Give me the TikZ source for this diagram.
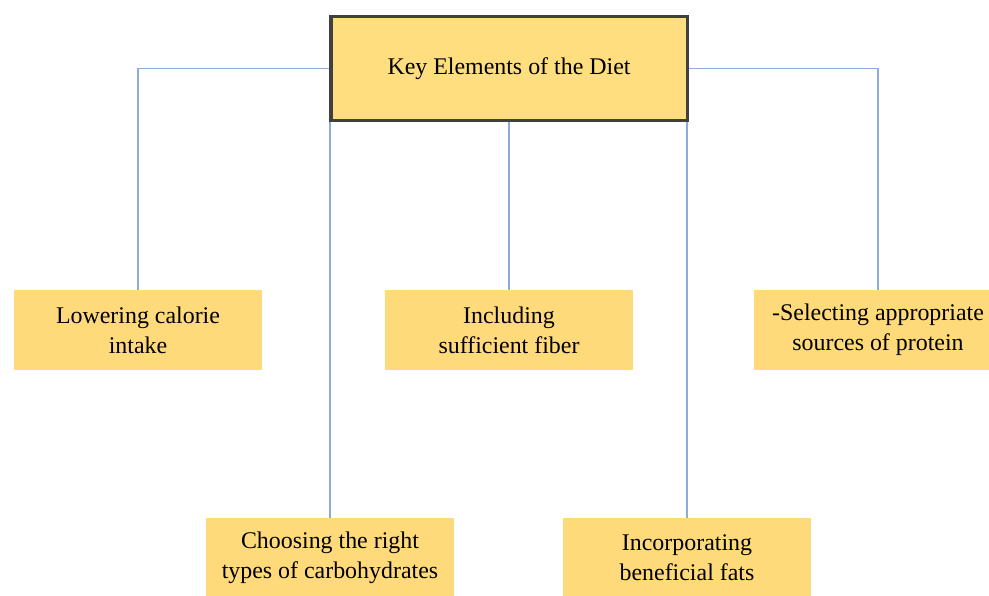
\documentclass[tikz,border=0pt]{standalone}
\usepackage{fontspec}
\setmainfont{Liberation Serif}
\usepackage{tikz}

\definecolor{boxyellow}{RGB}{255,218,122}
\definecolor{topyellow}{RGB}{255,222,128}
\definecolor{linkblue}{RGB}{143,170,220}
\definecolor{frame}{RGB}{64,64,64}

\begin{document}
\begin{tikzpicture}[
        x=0.025cm, y=-0.025cm,
        box/.style={
            draw=none,
            fill=boxyellow,
            minimum width=6.2cm,
            minimum height=2cm,
            align=center,
            font=\fontsize{17}{21.3}\selectfont
        },
        topbox/.style={
            draw=frame,
            line width=2.2pt,
            fill=topyellow,
            minimum width=8.9cm,
            minimum height=2.6cm,
            align=center,
            font=\fontsize{17}{21.3}\selectfont
        },
        link/.style={
            draw=linkblue,
            line width=0.9pt
        }
    ]
        \useasboundingbox (0,0) rectangle (989,595);

        % Title
        \node[topbox] (top) at (509,68.5) {Key Elements of the Diet};

        % Upper row
        \node[box] (lowcal) at (138,330) {Lowering calorie\\intake};
        \node[box] (fiber) at (509,330) {Including\\sufficient fiber};
        \node[box] (protein) at (878,330) {-Selecting appropriate\\sources of protein};

        % Lower row
        \node[box] (carbs) at (330,558) {Choosing the right\\types of carbohydrates};
        \node[box] (fats) at (687,558) {Incorporating\\beneficial fats};

        % Connectors
        \draw[link] (top.west) -| (lowcal.north);
        \draw[link] (top.east) -| (protein.north);
        \draw[link] (top.south) -- (fiber.north);
        \draw[link] (top.south -| carbs.north) -- (carbs.north);
        \draw[link] (top.south -| fats.north) -- (fats.north);

    \end{tikzpicture}
\end{document}
